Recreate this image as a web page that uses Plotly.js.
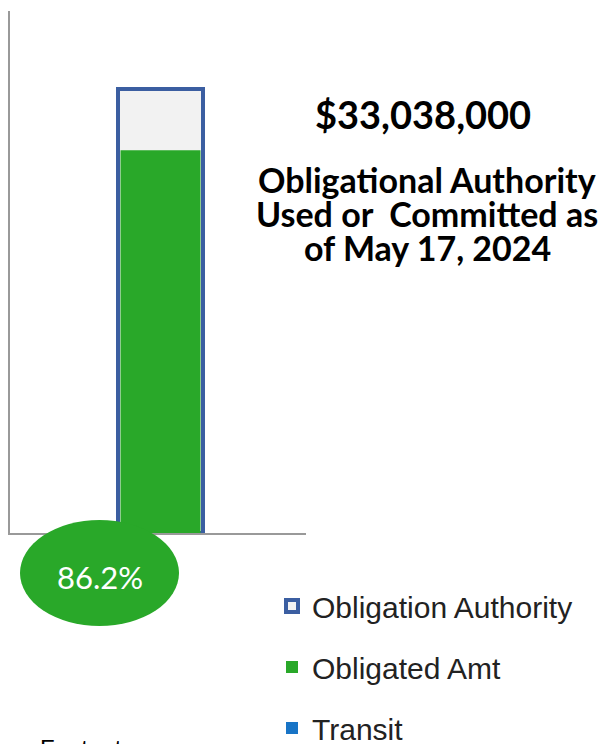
<!DOCTYPE html>
<html>
<head>
<meta charset="utf-8">
<script src="https://cdn.plot.ly/plotly-3.0.1.min.js"></script>
<style>html,body{margin:0;padding:0;background:#fff;}#chart{width:608px;height:744px;}</style>
</head>
<body>
<div id="chart"></div>
<script>
// ---- data ----
const seriesNames = ['Obligation Authority', 'Obligated Amt', 'Transit'];
const obligationAuthority = [33038000];
const obligatedAmt = [28479000];
const transit = [0];
const subtitleLines = ['Obligational Authority', 'Used or  Committed as', 'of May 17, 2024'];
const footnoteLabel = 'Footnotes:';

const pct = (obligatedAmt[0] / obligationAuthority[0] * 100).toFixed(1) + '%';
const amountText = '$' + obligationAuthority[0].toLocaleString('en-US');

// plot area in pixels: left 10, right 306, top 11, bottom 533
const L = 10, R = 306, T = 11, B = 533, W = 608, H = 744;
const px = x => (x - L) / (R - L);
const py = y => (B - y) / (B - T);

const traces = [
  {type: 'bar', name: seriesNames[0], x: [0], y: obligationAuthority, width: [85],
   marker: {color: '#F2F2F2', line: {color: '#3B5EA1', width: 4}},
   legendgroup: 'a', hoverinfo: 'none'},
  {type: 'bar', name: seriesNames[1], x: [0], y: obligatedAmt, width: [80],
   marker: {color: '#29A829', line: {width: 0}},
   legendgroup: 'b', hoverinfo: 'none'},
  {type: 'bar', name: seriesNames[2], x: [0], y: transit, width: [80],
   marker: {color: '#1874C6', line: {width: 0}},
   legendgroup: 'c', hoverinfo: 'none'}
];

const subtitleY = [179, 213, 247];
const annotations = [
  {xref: 'paper', yref: 'paper', x: px(99.5), y: py(577), text: pct, showarrow: false,
   font: {family: 'Lato, sans-serif', size: 31, color: '#ffffff'}, xanchor: 'center', yanchor: 'middle'},
  {xref: 'paper', yref: 'paper', x: px(423), y: py(114), text: '<b>' + amountText + '</b>', showarrow: false,
   font: {family: 'Lato, sans-serif', size: 38, color: '#000'}, xanchor: 'center', yanchor: 'middle'},
  {xref: 'paper', yref: 'paper', x: px(38), y: py(733), text: footnoteLabel, showarrow: false,
   font: {family: 'Liberation Sans, Arial, sans-serif', size: 24, color: '#000'}, xanchor: 'left', yanchor: 'top'}
];
subtitleLines.forEach((t, i) => annotations.push(
  {xref: 'paper', yref: 'paper', x: px(427), y: py(subtitleY[i]), text: '<b>' + t + '</b>', showarrow: false,
   font: {family: 'Lato, sans-serif', size: 34, color: '#000'}, xanchor: 'center', yanchor: 'middle'}));

const layout = {
  width: W, height: H,
  margin: {l: L, r: W - R, t: T, b: H - B, pad: 0, autoexpand: false},
  paper_bgcolor: '#ffffff', plot_bgcolor: '#ffffff',
  barmode: 'overlay',
  showlegend: true,
  legend: {
    x: px(272), y: py(580), xanchor: 'left', yanchor: 'top',
    font: {family: 'Liberation Sans, Arial, sans-serif', size: 30, color: '#222'},
    traceorder: 'grouped', tracegroupgap: 19, bgcolor: 'rgba(0,0,0,0)'
  },
  xaxis: {range: [-150.5, 145.5], showline: true, linecolor: '#999999', linewidth: 2,
          showgrid: false, zeroline: false, showticklabels: false, ticks: '', fixedrange: true},
  yaxis: {range: [0, 38840000], showline: true, linecolor: '#999999', linewidth: 2,
          showgrid: false, zeroline: false, showticklabels: false, ticks: '', fixedrange: true},
  shapes: [
    {type: 'circle', xref: 'paper', yref: 'paper', layer: 'above',
     x0: px(20), x1: px(179), y0: py(626), y1: py(520),
     fillcolor: '#29A829', line: {width: 0}}
  ],
  annotations: annotations
};

Plotly.newPlot('chart', traces, layout, {staticPlot: true, displayModeBar: false});
</script>
</body>
</html>
